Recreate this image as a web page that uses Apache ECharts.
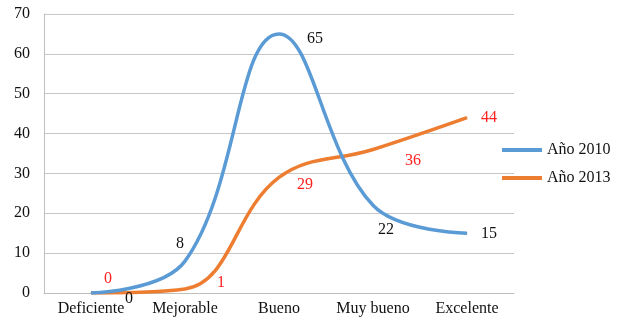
<!DOCTYPE html>
<html>
<head>
<meta charset="utf-8">
<script src="https://cdn.jsdelivr.net/npm/echarts@6/dist/echarts.min.js"></script>
<style>
  html, body { margin: 0; padding: 0; background: #fff; }
  #chart { width: 621px; height: 322px; }
</style>
</head>
<body>
<div id="chart"></div>
<script>
// Rating categories and counts per survey year
const categories = ['Deficiente', 'Mejorable', 'Bueno', 'Muy bueno', 'Excelente'];
const values2010 = [0, 8, 65, 22, 15];
const values2013 = [0, 1, 29, 36, 44];
const yTicks = { min: 0, max: 70, interval: 10 };

// Label nudges (pixels) so the value labels sit clear of the curves
const shift2010 = [[38, 6], [-5, -17], [36, 5], [13, 24], [22, 1]];
const shift2013 = [[17, -14], [36, -6], [26, 7], [40, 11], [22, 0]];

const serif = 'Liberation Serif';

function withLabels(values, shifts, color) {
  return values.map((v, i) => ({
    value: v,
    label: {
      show: true,
      position: 'inside',
      offset: shifts[i],
      color: color,
      fontFamily: serif,
      fontSize: 16
    }
  }));
}

const chart = echarts.init(document.getElementById('chart'), null, { renderer: 'canvas' });
chart.setOption({
  animation: false,
  backgroundColor: '#fff',
  grid: { left: 44, right: 107, top: 14, bottom: 29, containLabel: false },
  legend: {
    orient: 'vertical',
    left: 497,
    top: 136,
    icon: 'rect',
    itemWidth: 40,
    itemHeight: 4,
    itemGap: 10,
    textStyle: { fontFamily: serif, fontSize: 16, color: '#111', lineHeight: 18 },
    data: ['Año 2010', 'Año 2013']
  },
  xAxis: {
    type: 'category',
    data: categories,
    boundaryGap: true,
    axisLine: { show: true, lineStyle: { color: '#bfbfbf', width: 1 } },
    axisTick: { show: false },
    axisLabel: { interval: 0, fontFamily: serif, fontSize: 16, color: '#111', margin: 8 }
  },
  yAxis: {
    type: 'value',
    min: yTicks.min,
    max: yTicks.max,
    interval: yTicks.interval,
    axisLine: { show: true, lineStyle: { color: '#bfbfbf', width: 1 } },
    axisTick: { show: false },
    axisLabel: { fontFamily: serif, fontSize: 16, color: '#111', margin: 14 },
    splitLine: { show: true, lineStyle: { color: '#c8c8c8', width: 1 } }
  },
  series: [
    {
      name: 'Año 2010',
      type: 'line',
      smooth: 0.4,
      data: withLabels(values2010, shift2010, '#111'),
      symbol: 'circle',
      symbolSize: 1,
      showSymbol: true,
      lineStyle: { color: '#5B9BD5', width: 3.5 },
      itemStyle: { color: '#5B9BD5' },
      z: 3
    },
    {
      name: 'Año 2013',
      type: 'line',
      smooth: 0.4,
      data: withLabels(values2013, shift2013, '#ff2020'),
      symbol: 'circle',
      symbolSize: 1,
      showSymbol: true,
      lineStyle: { color: '#ED7D31', width: 3.5 },
      itemStyle: { color: '#ED7D31' },
      z: 2
    }
  ]
});
</script>
</body>
</html>
